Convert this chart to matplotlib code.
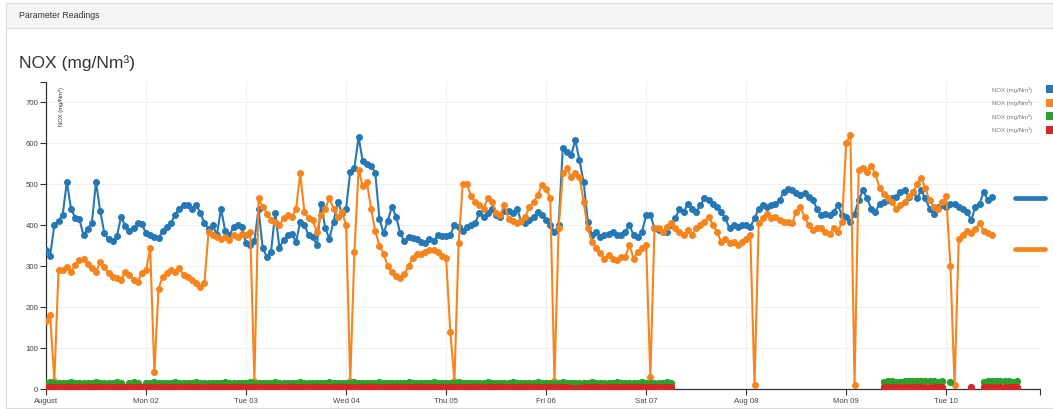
import numpy as np
import pandas as pd
import matplotlib
matplotlib.use("Agg")
import matplotlib.pyplot as plt
from matplotlib.patches import Rectangle
from matplotlib.lines import Line2D

plt.rcParams['font.family'] = ['Liberation Sans', 'DejaVu Sans']

# hourly readings from 1 Aug 00:00
nox_1 = [
    339, 325, 400, 410, 425, 505, 440, 418, 415, 375, 390, 405, 505, 435, 380, 365, 360, 372, 420, 398, 385, 392, 405, 402,
    380, 375, 370, 368, 385, 395, 405, 425, 440, 450, 448, 440, 450, 430, 405, 390, 400, 375, 440, 385, 375, 395, 400, 395,
    355, 351, 360, 440, 343, 322, 335, 430, 345, 363, 375, 378, 359, 408, 400, 375, 371, 351, 452, 392, 367, 408, 456, 430,
    440, 530, 540, 615, 555, 550, 545, 528, 415, 380, 410, 445, 420, 380, 360, 370, 368, 365, 358, 355, 365, 360, 375, 372,
    372, 375, 400, 395, 385, 395, 400, 405, 430, 420, 430, 440, 425, 420, 435, 435, 430, 440, 410, 405, 412, 420, 432, 424,
    412, 400, 383, 400, 587, 578, 570, 607, 558, 505, 408, 375, 383, 371, 375, 379, 383, 375, 375, 383, 400, 375, 371, 383,
    424, 425, 392, 387, 383, 383, 400, 416, 440, 432, 452, 440, 432, 448, 465, 460, 452, 444, 432, 416, 392, 400, 396, 400,
    400, 396, 416, 440, 448, 444, 448, 452, 460, 481, 489, 485, 477, 473, 477, 469, 460, 440, 424, 428, 424, 432, 448, 424,
    420, 408, 428, 460, 485, 465, 440, 432, 452, 456, 460, 465, 469, 481, 485, 469, 481, 465, 485, 465, 440, 428, 444, 448,
    444, 452, 452, 444, 440, 432, 412, 444, 452, 481, 460, 469,
]
nox_2 = [
    165, 180, 20, 290, 290, 298, 286, 302, 314, 318, 306, 294, 286, 310, 298, 282, 274, 270, 265, 286, 278, 265, 262, 282,
    290, 343, 42, 245, 274, 282, 290, 286, 294, 278, 274, 265, 258, 249, 258, 383, 375, 371, 367, 371, 363, 375, 371, 379,
    375, 383, 20, 465, 444, 428, 412, 408, 400, 416, 424, 420, 440, 526, 432, 416, 412, 383, 424, 440, 465, 440, 420, 432,
    400, 20, 335, 535, 495, 505, 440, 385, 350, 330, 300, 285, 275, 270, 280, 300, 320, 330, 330, 335, 340, 340, 335, 325,
    320, 140, 20, 355, 500, 500, 470, 455, 450, 440, 465, 455, 430, 425, 450, 415, 410, 405, 410, 420, 444, 456, 473, 497,
    489, 465, 20, 392, 526, 538, 517, 526, 517, 456, 392, 359, 343, 331, 318, 327, 318, 314, 322, 322, 351, 318, 335, 343,
    351, 30, 392, 392, 383, 396, 404, 392, 383, 375, 387, 375, 392, 400, 408, 420, 400, 383, 359, 367, 355, 359, 351, 359,
    367, 375, 10, 404, 416, 428, 416, 420, 412, 408, 408, 404, 432, 444, 420, 400, 387, 392, 392, 383, 379, 392, 383, 408,
    600, 620, 10, 535, 540, 530, 545, 525, 490, 475, 465, 455, 440, 450, 455, 470, 480, 500, 515, 490, 460, 445, 440, 455,
    470, 300, 10, 365, 375, 385, 380, 390, 405, 385, 380, 375,
]
nan = np.nan
nox_3 = [
    15, 16, 15, 15, 14, 15, 16, 15, 15, 14, 15, 15, 16, 15, 15, 14, 15, 16, 15, nan, 15, 16, 15, nan,
    15, 15, 16, 15, 14, 15, 15, 16, 15, 15, 14, 15, 16, 15, 15, 15, 14, 15, 15, 16, 15, 15, 14, 15,
    15, 16, 15, 15, 14, 15, 15, 16, 15, 15, 15, 14, 15, 16, 15, 15, 15, 14, 15, 15, 16, 15, 15, 14,
    15, 15, 16, 15, 15, 14, 15, 15, 16, 15, 15, 15, 14, 15, 15, 16, 15, 15, 14, 15, 15, 16, 15, 15,
    15, 14, 15, 16, 15, 15, 15, 14, 15, 15, 16, 15, 15, 15, 14, 15, 16, 15, 15, 14, 15, 15, 16, 15,
    15, 15, 14, 15, 16, 15, 15, 15, 14, 15, 15, 16, 15, 15, 14, 15, 15, 16, 15, 15, 15, 14, 15, 16,
    15, 15, 14, 15, 15, 16, 15, nan, nan, nan, nan, nan, nan, nan, nan, nan, nan, nan, nan, nan, nan, nan, nan, nan,
    nan, nan, nan, nan, nan, nan, nan, nan, nan, nan, nan, nan, nan, nan, nan, nan, nan, nan, nan, nan, nan, nan, nan, nan,
    nan, nan, nan, nan, nan, nan, nan, nan, nan, 18, 20, 19, 17, 18, 19, 20, 19, 19, 20, 19, 20, 19, 18, 19,
    nan, 18, nan, nan, nan, nan, nan, nan, nan, 18, 19, 19, 20, 19, 19, 19, 18, 19,
]
nox_4 = [
    5, 4, 5, 5, 4, 5, 5, 4, 5, 5, 5, 4, 5, 5, 4, 5, 5, 5, 4, 5, 5, 4, 5, 5,
    4, 5, 5, 4, 5, 5, 5, 4, 5, 5, 4, 5, 5, 5, 4, 5, 5, 4, 5, 5, 5, 4, 5, 5,
    5, 4, 5, 5, 5, 4, 5, 5, 4, 5, 5, 5, 4, 5, 5, 4, 5, 5, 5, 4, 5, 5, 4, 5,
    5, 5, 4, 5, 5, 4, 5, 5, 5, 4, 5, 5, 4, 5, 5, 5, 4, 5, 5, 4, 5, 5, 5, 4,
    5, 5, 4, 5, 5, 5, 4, 5, 5, 4, 5, 5, 5, 4, 5, 5, 4, 5, 5, 5, 4, 5, 5, 4,
    5, 5, 5, 4, 5, 5, 3, 2, 3, 5, 5, 4, 5, 5, 5, 4, 5, 5, 4, 5, 5, 5, 4, 5,
    5, 4, 5, 5, 5, 4, 5, nan, nan, nan, nan, nan, nan, nan, nan, nan, nan, nan, nan, nan, nan, nan, nan, nan,
    nan, nan, nan, nan, nan, nan, nan, nan, nan, nan, nan, nan, nan, nan, nan, nan, nan, nan, nan, nan, nan, nan, nan, nan,
    nan, nan, nan, nan, nan, nan, nan, nan, nan, 5, 5, 4, 5, 5, 5, 4, 5, 5, 5, 4, 5, 5, 5, 5,
    nan, nan, nan, nan, nan, nan, 5, nan, nan, 5, 5, 4, 5, 5, 5, 4, 5, 5,
]
series_colors = ['#2478b5', '#f7841c', '#2ca02c', '#d62728']
series_labels = ['NOX (mg/Nm³)'] * 4
day_labels = ['August', 'Mon 02', 'Tue 03', 'Wed 04', 'Thu 05', 'Fri 06',
              'Sat 07', 'Aug 08', 'Mon 09', 'Tue 10']
side_marks = [466, 341]

W, H = 1053, 410
fig = plt.figure(figsize=(W / 100, H / 100), dpi=100)


def fx(px):
    return px / W


def fy(py):
    return 1 - py / H


# panel with header bar (kept behind the axes)
fig.patches.append(Rectangle((fx(6), fy(409)), fx(1060), fy(4) - fy(409), transform=fig.transFigure,
                             facecolor='white', edgecolor='#dddddd', lw=0.8, zorder=-10))
fig.patches.append(Rectangle((fx(6), fy(29)), fx(1060), fy(4) - fy(29), transform=fig.transFigure,
                             facecolor='#f5f5f5', edgecolor='#dddddd', lw=0.8, zorder=-9))
fig.text(fx(19), fy(16), 'Parameter Readings', fontsize=6.3, color='#333333', va='center')
fig.text(fx(19), fy(63), 'NOX (mg/Nm³)', fontsize=12.5, color='#333333', va='center')

start = pd.Timestamp('2021-08-01')
ax = fig.add_axes([fx(46), fy(390), fx(1040) - fx(46), fy(82.5) - fy(390)])
ax.set_facecolor('none')

t12 = pd.date_range(start, periods=len(nox_1), freq='h')
t34 = pd.date_range(start, periods=len(nox_3), freq='h')

ax.plot(t12, nox_1, color=series_colors[0], lw=1.5, marker='o', ms=4.0, zorder=3)
ax.plot(t12, nox_2, color=series_colors[1], lw=1.5, marker='o', ms=4.0, zorder=4)
ax.plot(t34, nox_3, color=series_colors[2], lw=3.0, marker='o', ms=4.2, zorder=5)
ax.plot(t34, nox_4, color=series_colors[3], lw=3.0, marker='o', ms=4.2, zorder=6)

end = start + pd.Timedelta(hours=238.5)
ax.set_ylim(0, 750)
ax.set_xlim(start, end)

days = pd.date_range(start, periods=len(day_labels), freq='D')
ax.set_xticks(days)
ax.set_xticklabels(day_labels)
ax.set_yticks(range(0, 701, 100))
ax.set_yticks([750], minor=True)
ax.set_xticks([end], minor=True)
ax.grid(True, which='major', color='#f1f1f1', lw=0.8, zorder=0)
ax.set_axisbelow(True)

for s in ['top', 'right']:
    ax.spines[s].set_visible(False)
for s in ['left', 'bottom']:
    ax.spines[s].set_color('#333333')
    ax.spines[s].set_linewidth(0.9)
ax.tick_params(which='both', direction='out', length=4, width=0.8, color='#333333',
               labelsize=5.6, labelcolor='#444444', pad=1.5)

ax.text(0.012, 0.985, 'NOX (mg/Nm³)', transform=ax.transAxes, rotation=90,
        fontsize=4.2, color='#333333', ha='left', va='top')

# legend at top right
for i, (lab, col) in enumerate(zip(series_labels, series_colors)):
    y = 90 + i * 13.5
    fig.text(fx(1032), fy(y), lab, fontsize=4.3, color='#777777', ha='right', va='center')
    fig.patches.append(Rectangle((fx(1046), fy(y + 4)), fx(9), fy(y - 4) - fy(y + 4),
                                 transform=fig.transFigure, facecolor=col, edgecolor='none'))

# side markers right of the plot
blend = matplotlib.transforms.blended_transform_factory(fig.transFigure, ax.transData)
for val, col in zip(side_marks, series_colors[:2]):
    fig.lines.append(Line2D([fx(1015), fx(1045)], [val, val], transform=blend,
                            color=col, lw=3.4, solid_capstyle='round'))

fig.savefig('out.png', dpi=100)
